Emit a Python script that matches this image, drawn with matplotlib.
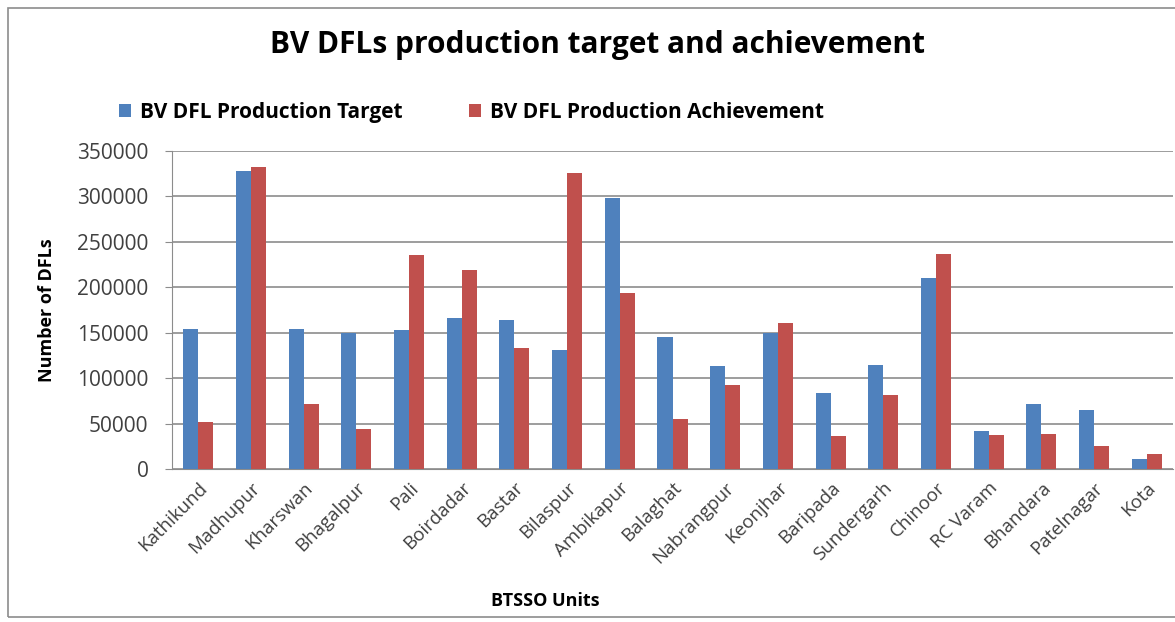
import numpy as np
import matplotlib.pyplot as plt
from matplotlib.patches import Rectangle

units = ["Kathikund", "Madhupur", "Kharswan", "Bhagalpur", "Pali", "Boirdadar",
         "Bastar", "Bilaspur", "Ambikapur", "Balaghat", "Nabrangpur", "Keonjhar",
         "Baripada", "Sundergarh", "Chinoor", "RC Varam", "Bhandara",
         "Patelnagar", "Kota"]
target = [154000, 328000, 154000, 149500, 153000, 166500, 163500, 131000, 298500,
          145000, 113500, 149500, 84000, 115000, 210000, 42000, 72000, 65000, 11000]
achievement = [52000, 332000, 71000, 44500, 236000, 219500, 133000, 326000, 194000,
               55500, 93000, 161000, 36000, 81000, 236500, 37500, 38500, 25000, 16500]
yticks = [0, 50000, 100000, 150000, 200000, 250000, 300000, 350000]

plt.rcParams['font.family'] = ['Open Sans', 'DejaVu Sans']

fig = plt.figure(figsize=(11.75, 6.22), dpi=100)
W, H = 1175, 622
ax = fig.add_axes([172 / W, 1 - 469 / H, (1173 - 172) / W, (469 - 151) / H])

# chart border
fig.patches.append(Rectangle((8 / W, 5 / H), 1.0, 1 - 13 / H, transform=fig.transFigure,
                             fill=False, edgecolor='#8c8c8c', linewidth=1.2))

x = np.arange(len(units))
w = 0.285
ax.bar(x - w / 2, target, w, color='#4F81BD', label='BV DFL Production Target', zorder=3)
ax.bar(x + w / 2, achievement, w, color='#C0504D', label='BV DFL Production Achievement', zorder=3)

ax.set_xlim(-0.5, len(units) - 0.5)
ax.set_ylim(0, 350000)
ax.set_yticks(yticks)
ax.set_yticklabels([str(v) for v in yticks], fontsize=15, color='#404040')
ax.set_xticks(x)
ax.set_xticklabels(units, rotation=45, ha='right', rotation_mode='anchor',
                   fontsize=13.5, color='#404040')
ax.tick_params(axis='x', length=0, pad=7)
ax.tick_params(axis='y', length=5, color='#8c8c8c', pad=12)
ax.grid(axis='y', color='#8c8c8c', linewidth=1.2, zorder=0)
for s in ['top', 'right']:
    ax.spines[s].set_visible(False)
ax.spines['left'].set_color('#8c8c8c')
ax.spines['bottom'].set_color('#8c8c8c')

fig.text(597 / W, 1 - 45 / H, 'BV DFLs production target and achievement',
         ha='center', va='center', fontsize=21.5, fontweight='bold')
ax.set_ylabel('Number of DFLs', fontsize=13, fontweight='bold', labelpad=15)
fig.text(545 / W, 1 - 601 / H, 'BTSSO Units', ha='center', va='center',
         fontsize=13, fontweight='bold')

fig.legend(loc='center left', bbox_to_anchor=(100 / W, 1 - 112 / H), ncol=2,
           frameon=False, handlelength=0.6, handleheight=0.6,
           columnspacing=3.2, handletextpad=0.4,
           prop={'weight': 'bold', 'size': 15})

fig.savefig('out.png', dpi=100)
